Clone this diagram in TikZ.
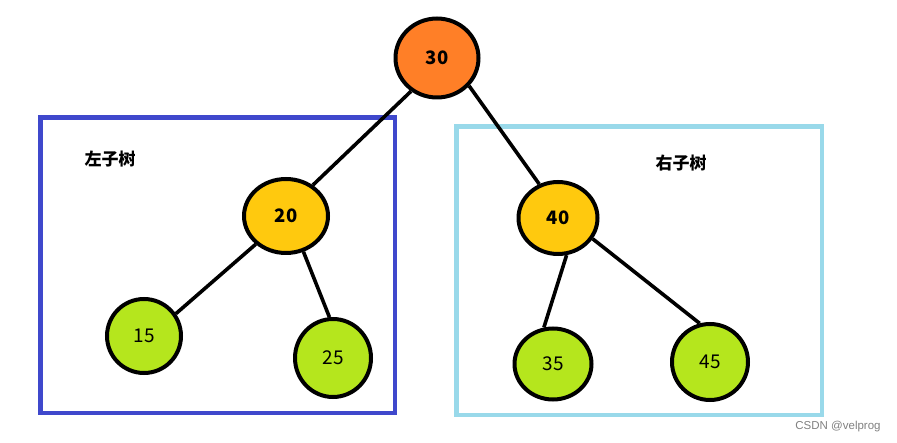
\documentclass[tikz,border=0pt]{standalone}
\usepackage{fontspec}
\newfontfamily\cjk{Noto Sans CJK SC}
\setmainfont{Liberation Sans}
\usetikzlibrary{shapes.geometric}
\definecolor{rootorange}{HTML}{FF7F27}
\definecolor{midyellow}{HTML}{FFC90E}
\definecolor{leafgreen}{HTML}{B5E61D}
\definecolor{leftblue}{HTML}{3F48CC}
\definecolor{rightblue}{HTML}{99D9EA}
\tikzset{
  treenode/.style={ellipse, draw=black, line width=4pt, inner sep=0pt},
  upper/.style={treenode, font=\cjk\bfseries\fontsize{18.5}{18.5}\selectfont},
  leaf/.style={treenode, fill=leafgreen, font=\cjk\fontsize{19}{19}\selectfont},
  edge/.style={line width=3.6pt},
  subtree/.style={line width=4.5pt}
}
\begin{document}
\begin{tikzpicture}[x=1pt,y=-1pt]
			\useasboundingbox (0,0) rectangle (897,443);

			% Boxes
			\draw[subtree, leftblue] (40.5,117.5) rectangle (395,413);
			\draw[subtree, rightblue] (456.5,126.5) rectangle (822,415);

			% Labels
			\node (L) at (110,159) {\cjk\bfseries\fontsize{17}{17}\selectfont 左子树};
			\node (R) at (681,163) {\cjk\bfseries\fontsize{17}{17}\selectfont 右子树};
			\node[text=gray, font=\fontsize{11.5}{11.5}\selectfont] (W) at (838,427) {CSDN @velprog};

			% Nodes
			\node[upper, fill=rootorange, minimum width=83pt, minimum height=79pt] (n30) at (437,58) {30};
			\node[upper, fill=midyellow, minimum width=84pt, minimum height=74pt] (n20) at (286,216) {20};
			\node[upper, fill=midyellow, minimum width=79pt, minimum height=72pt] (n40) at (558,218) {40};
			\node[leaf, minimum width=74pt, minimum height=74pt] (n15) at (144,336) {15};
			\node[leaf, minimum width=76pt, minimum height=78pt] (n25) at (333,358) {25};
			\node[leaf, minimum width=77pt, minimum height=71pt] (n35) at (553,364) {35};
			\node[leaf, minimum width=76pt, minimum height=76pt] (n45) at (710,362) {45};

			% Lines going down
			\draw[edge] (n30.232) to (n20.49);
			\draw[edge] (n30.-41) to (n40.119);
			\draw[edge] (n20.223) to (n15.35);
			\draw[edge] (n20.-64) to (n25.95);
			\draw[edge] (n40.-77) to (n35.104);
			\draw[edge] (n40.-31) to (n45.105);

		\end{tikzpicture}
\end{document}
